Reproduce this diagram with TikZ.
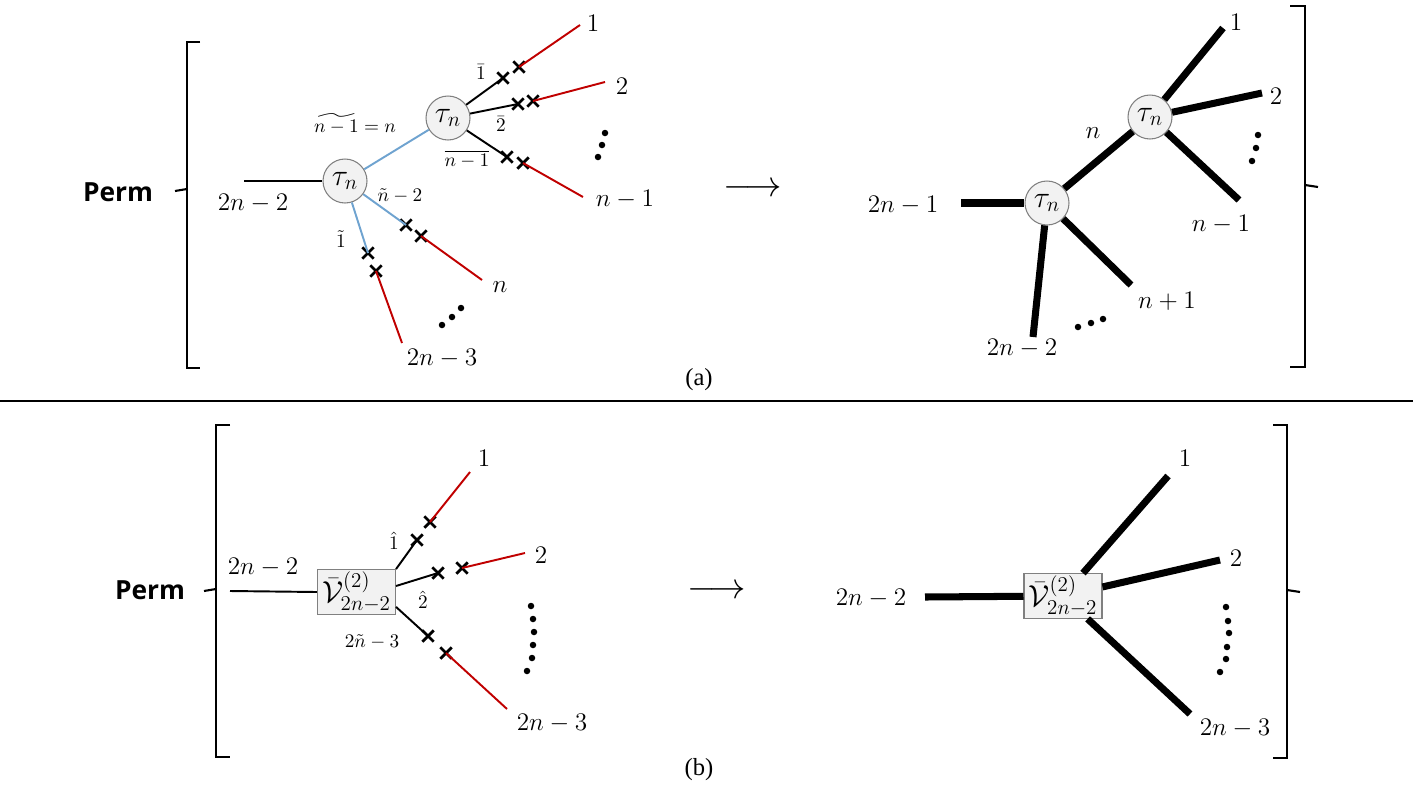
\documentclass[tikz,border=0pt]{standalone}
\usepackage{amsmath,amssymb}
\usepackage{fontspec}
\newfontfamily\permfont{Open Sans}
\newfontfamily\capfont{Liberation Serif}
\usetikzlibrary{shapes.misc,calc}
\definecolor{NodeFill}{HTML}{F2F2F2}
\definecolor{NodeEdge}{HTML}{808080}
\definecolor{LegBlue}{HTML}{6FA3D0}
\definecolor{LegRed}{HTML}{C00000}

\begin{document}
\begin{tikzpicture}[x=0.02cm,y=-0.02cm,every node/.style={font=\fontsize{15}{18}\selectfont},vtx/.style={circle,draw=NodeEdge,fill=NodeFill,line width=0.6pt,minimum size=0.88cm,inner sep=0pt,font=\fontsize{17}{20}\selectfont},vbox/.style={rectangle,draw=NodeEdge,fill=NodeFill,line width=0.6pt,minimum width=1.56cm,minimum height=0.82cm,inner sep=1pt,font=\fontsize{17}{20}\selectfont},cut/.style={cross out,draw,line width=1.6pt,minimum size=0.17cm,inner sep=0pt},wire/.style={line width=1.1pt},fat/.style={line width=4pt},blueleg/.style={draw=LegBlue,line width=1.1pt},redleg/.style={draw=LegRed,line width=1.1pt},smalltag/.style={font=\fontsize{11}{13}\selectfont},perm/.style={font=\permfont\bfseries\fontsize{15}{18}\selectfont},caption/.style={font=\capfont\fontsize{14}{16}\selectfont},bracket/.style={line width=1.2pt}]
\useasboundingbox (0,0) rectangle (1413,795);
% (a) left side
\node[perm](permA) at (118,192){Perm};
\draw[bracket] (200,42)--(187,42)--(187,368)--(200,368); \draw[bracket] (175,191)--(187,189);
\node[vtx](t1) at (345,181){$\tau_n$};\node[vtx](t2) at (448,118){$\tau_n$};
\coordinate (inA) at (244,181);\draw[wire](inA)--(t1);\node(lA0) at (253,203){$2n-2$};
\draw[blueleg](t1)--(t2);\node[smalltag](tA0) at (355,124){$\widetilde{n-1}=n$};
\node[cut](x1) at (503,78){};\node[cut](y1) at (519,67){};\coordinate (e1) at (580,25);
\node[cut](x2) at (518,104){};\node[cut](y2) at (533,101){};\coordinate (e2) at (605,82);
\node[cut](x3) at (507,157){};\node[cut](y3) at (523,163){};\coordinate (e3) at (583,197);
\draw[wire](t2)--(x1.center);\draw[wire](t2)--(x2.center);\draw[wire](t2)--(x3.center);
\draw[redleg](y1.center)--(e1);\draw[redleg](y2.center)--(e2);\draw[redleg](y3.center)--(e3);
\node[smalltag](tA1) at (481,72){$\bar{1}$};\node[smalltag](tA2) at (501,124){$\bar{2}$};\node[smalltag](tA3) at (467,159){$\overline{n-1}$};
\node(lA1) at (593,23){$1$};\node(lA2) at (622,86){$2$};\node(lA3) at (625,199){$n-1$};
\node[cut](x4) at (406,225){};\node[cut](y4) at (421,236){};\coordinate (e4) at (482,280);
\node[cut](x5) at (368,253){};\node[cut](y5) at (376,271){};\coordinate (e5) at (402,343);
\draw[blueleg](t1)--(x4.center);\draw[blueleg](t1)--(x5.center);
\draw[redleg](y4.center)--(e4);\draw[redleg](y5.center)--(e5);
\node[smalltag](tA4) at (400,196){$\tilde{n}-2$};\node[smalltag](tA5) at (341,239){$\tilde{1}$};
\node(lA4) at (500,287){$n$};\node(lA5) at (442,358){$2n-3$};
\foreach \p in {(605,133),(602,145),(598,157),(442,325),(452,317),(461,308)} \fill \p circle[radius=0.065cm];
\node(arrA) at (753,190){\fontsize{22}{24}\selectfont$\longrightarrow$};
% (a) right side
\node[vtx](d1) at (1047,203){$\tau_n$};\node[vtx](d2) at (1150,117){$\tau_n$};
\coordinate (inB) at (961,203);\draw[fat](inB)--(d1);\draw[fat](d1)--(d2);
\coordinate (f1) at (1223,28);\coordinate (f2) at (1262,93);\coordinate (f3) at (1239,200);\coordinate (f4) at (1131,285);\coordinate (f5) at (1033,337);
\draw[fat](d2)--(f1);\draw[fat](d2)--(f2);\draw[fat](d2)--(f3);\draw[fat](d1)--(f4);\draw[fat](d1)--(f5);
\node(lB0) at (903,205){$2n-1$};\node(lBn) at (1093,133){$n$};\node(lB1) at (1236,22){$1$};\node(lB2) at (1276,96){$2$};\node(lB3) at (1221,224){$n-1$};\node(lB4) at (1167,301){$n+1$};\node(lB5) at (1022,348){$2n-2$};
\foreach \p in {(1258,135),(1256,148),(1252,161),(1078,327),(1091,323),(1103,319)} \fill \p circle[radius=0.065cm];
\draw[bracket] (1290,6)--(1305,6)--(1305,367)--(1290,367); \draw[bracket] (1305,185)--(1318,187);
\node[caption](capA) at (699,380){(a)};
\draw[line width=1.6pt] (0,401)--(1413,401);
% (b) left side
\node[perm](permB) at (150,590){Perm};
\draw[bracket] (230,425)--(216,425)--(216,757)--(230,757); \draw[bracket] (204,591)--(216,589);
\node[vbox](v1) at (356.5,592){$\bar{\mathcal{V}}^{(2)}_{2n-2}$};
\coordinate (inC) at (230,591);\draw[wire](inC)--(v1.west);\node(lC0) at (263,567){$2n-2$};
\node[cut](x6) at (417,540){};\node[cut](y6) at (430,522){};\coordinate (e6) at (470,472);
\node[cut](x7) at (438,573){};\node[cut](y7) at (462,568){};\coordinate (e7) at (525,553);
\node[cut](x8) at (428,636){};\node[cut](y8) at (446,653){};\coordinate (e8) at (507,709);
\draw[wire](v1.north east)--(x6.center);\draw[wire]($(v1.east)+(0,-6)$)--(x7.center);\draw[wire]($(v1.south east)+(0,-8)$)--(x8.center);
\draw[redleg](y6.center)--(e6);\draw[redleg](y7.center)--(e7);\draw[redleg](y8.center)--(e8);
\node[smalltag](tC1) at (394,541){$\hat{1}$};\node[smalltag](tC2) at (423,600){$\hat{2}$};\node[smalltag](tC3) at (372,642){$2\tilde{n}-3$};
\node(lC1) at (484,458){$1$};\node(lC2) at (541,555){$2$};\node(lC3) at (552,723){$2n-3$};
\foreach \p in {(531,606),(533,619),(534,632),(533,645),(532,658),(527,671)} \fill \p circle[radius=0.065cm];
\node(arrB) at (717,592){\fontsize{22}{24}\selectfont$\longrightarrow$};
% (b) right side
\node[vbox](v2) at (1063,596){$\bar{\mathcal{V}}^{(2)}_{2n-2}$};
\coordinate (inD) at (925,597);\draw[fat](inD)--(v2);
\coordinate (g1) at (1168,476);\coordinate (g2) at (1220,560);\coordinate (g3) at (1190,714);
\draw[fat](v2)--(g1);\draw[fat](v2)--(g2);\draw[fat](v2)--(g3);
\node(lD0) at (871,598){$2n-2$};\node(lD1) at (1185,458){$1$};\node(lD2) at (1236,558){$2$};\node(lD3) at (1235,728){$2n-3$};
\foreach \p in {(1226,607),(1228,621),(1229,633),(1227,647),(1226,659),(1220,672)} \fill \p circle[radius=0.065cm];
\draw[bracket] (1273,425)--(1287,425)--(1287,758)--(1273,758); \draw[bracket] (1287,590)--(1300,592);
\node[caption](capB) at (699,770){(b)};
\end{tikzpicture}
\end{document}
